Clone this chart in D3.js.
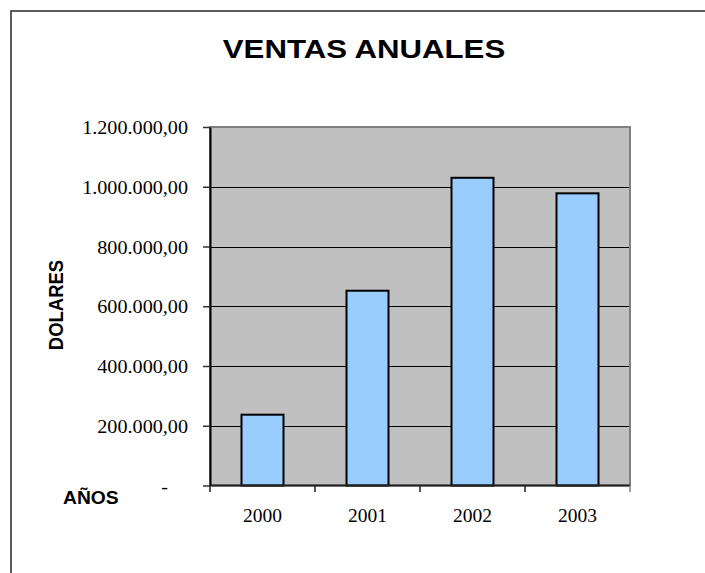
<!DOCTYPE html>
<html>
<head>
<meta charset="utf-8">
<script src="https://cdn.jsdelivr.net/npm/d3@7"></script>
<style>
  html, body { margin: 0; padding: 0; background: #fff; }
</style>
</head>
<body>
<div id="chart"></div>
<script>
// Data
var years = ["2000", "2001", "2002", "2003"];
var sales = [237000, 652000, 1030000, 978000];
var yTicks = [0, 200000, 400000, 600000, 800000, 1000000, 1200000];

var W = 705, H = 573;
var plot = {left: 210, top: 127, right: 630, bottom: 485.5};

var svg = d3.select("#chart")
    .append("svg")
    .attr("width", W)
    .attr("height", H);

// outer chart frame (runs off right/bottom edges)
svg.append("rect")
    .attr("x", 11).attr("y", 11)
    .attr("width", W + 20).attr("height", H + 20)
    .attr("fill", "#fff")
    .attr("stroke", "#333")
    .attr("stroke-width", 1.6);

var es = d3.formatLocale({decimal: ",", thousands: ".", grouping: [3], currency: ["", ""]});
var fmt = es.format(",.2f");

var x = d3.scaleBand()
    .domain(years)
    .range([plot.left, plot.right])
    .paddingInner(0.6)
    .paddingOuter(0.3);

var y = d3.scaleLinear()
    .domain([0, 1200000])
    .range([plot.bottom, plot.top]);

// plot area
svg.append("rect")
    .attr("x", plot.left).attr("y", plot.top)
    .attr("width", plot.right - plot.left)
    .attr("height", plot.bottom - plot.top)
    .attr("fill", "#c0c0c0")
    .attr("stroke", "#808080")
    .attr("stroke-width", 2);

// gridlines
svg.append("g")
    .selectAll("line")
    .data(yTicks.filter(d => d > 0 && d < 1200000))
    .join("line")
    .attr("x1", plot.left).attr("x2", plot.right - 1)
    .attr("y1", d => Math.round(y(d)) + 0.5)
    .attr("y2", d => Math.round(y(d)) + 0.5)
    .attr("stroke", "#000")
    .attr("stroke-width", 1);

// bars
svg.append("g")
    .selectAll("rect")
    .data(sales)
    .join("rect")
    .attr("x", (d, i) => x(years[i]))
    .attr("y", d => y(d))
    .attr("width", x.bandwidth())
    .attr("height", d => plot.bottom - y(d))
    .attr("fill", "#99ccff")
    .attr("stroke", "#000")
    .attr("stroke-width", 2);

// y axis
var yAxis = svg.append("g")
    .attr("transform", `translate(${plot.left},0)`)
    .call(d3.axisLeft(y).tickValues(yTicks).tickSize(7).tickSizeOuter(0)
        .tickFormat(d => d === 0 ? "-" : fmt(d)));
yAxis.select(".domain").attr("stroke", "#000").attr("stroke-width", 2);
yAxis.selectAll(".tick line").attr("stroke", "#333").attr("stroke-width", 1.5);
yAxis.selectAll(".tick text")
    .attr("x", 0).attr("dy", null).attr("y", 6.5)
    .attr("fill", "#000")
    .style("font-family", "'Liberation Serif', 'Times New Roman', serif")
    .style("font-size", "18px")
    .attr("transform", d => `translate(${d === 0 ? -42 : -22},0) scale(1.12,1)`);

// x axis: line, boundary ticks, centred labels
var bounds = years.map(c => x(c) - x.step() * 0.3).concat([plot.right]);
svg.append("line")
    .attr("x1", plot.left).attr("x2", plot.right)
    .attr("y1", plot.bottom).attr("y2", plot.bottom)
    .attr("stroke", "#222").attr("stroke-width", 2);
svg.append("g")
    .selectAll("line")
    .data(bounds)
    .join("line")
    .attr("x1", d => d).attr("x2", d => d)
    .attr("y1", plot.bottom).attr("y2", plot.bottom + 6.5)
    .attr("stroke", (d, i) => i === bounds.length - 1 ? "#808080" : "#222")
    .attr("stroke-width", 1.5);
svg.append("g")
    .selectAll("text")
    .data(years)
    .join("text")
    .attr("x", d => x(d) + x.bandwidth() / 2)
    .attr("y", 522)
    .attr("text-anchor", "middle")
    .style("font-family", "'Liberation Serif', 'Times New Roman', serif")
    .style("font-size", "19.5px")
    .text(d => d);

// title
svg.append("text")
    .attr("transform", "translate(364,58) scale(1.2,1)")
    .attr("text-anchor", "middle")
    .style("font-family", "'Liberation Sans', Arial, sans-serif")
    .style("font-weight", "bold")
    .style("font-size", "26px")
    .text("VENTAS ANUALES");

// axis titles
svg.append("text")
    .attr("transform", "translate(63,305) rotate(-90) scale(1,1.1)")
    .attr("text-anchor", "middle")
    .style("font-family", "'Liberation Sans', Arial, sans-serif")
    .style("font-weight", "bold")
    .style("font-size", "18.5px")
    .text("DOLARES");

svg.append("text")
    .attr("transform", "translate(63,503.5) scale(1.07,1)")
    .style("font-family", "'Liberation Sans', Arial, sans-serif")
    .style("font-weight", "bold")
    .style("font-size", "18px")
    .text("AÑOS");
</script>
</body>
</html>
